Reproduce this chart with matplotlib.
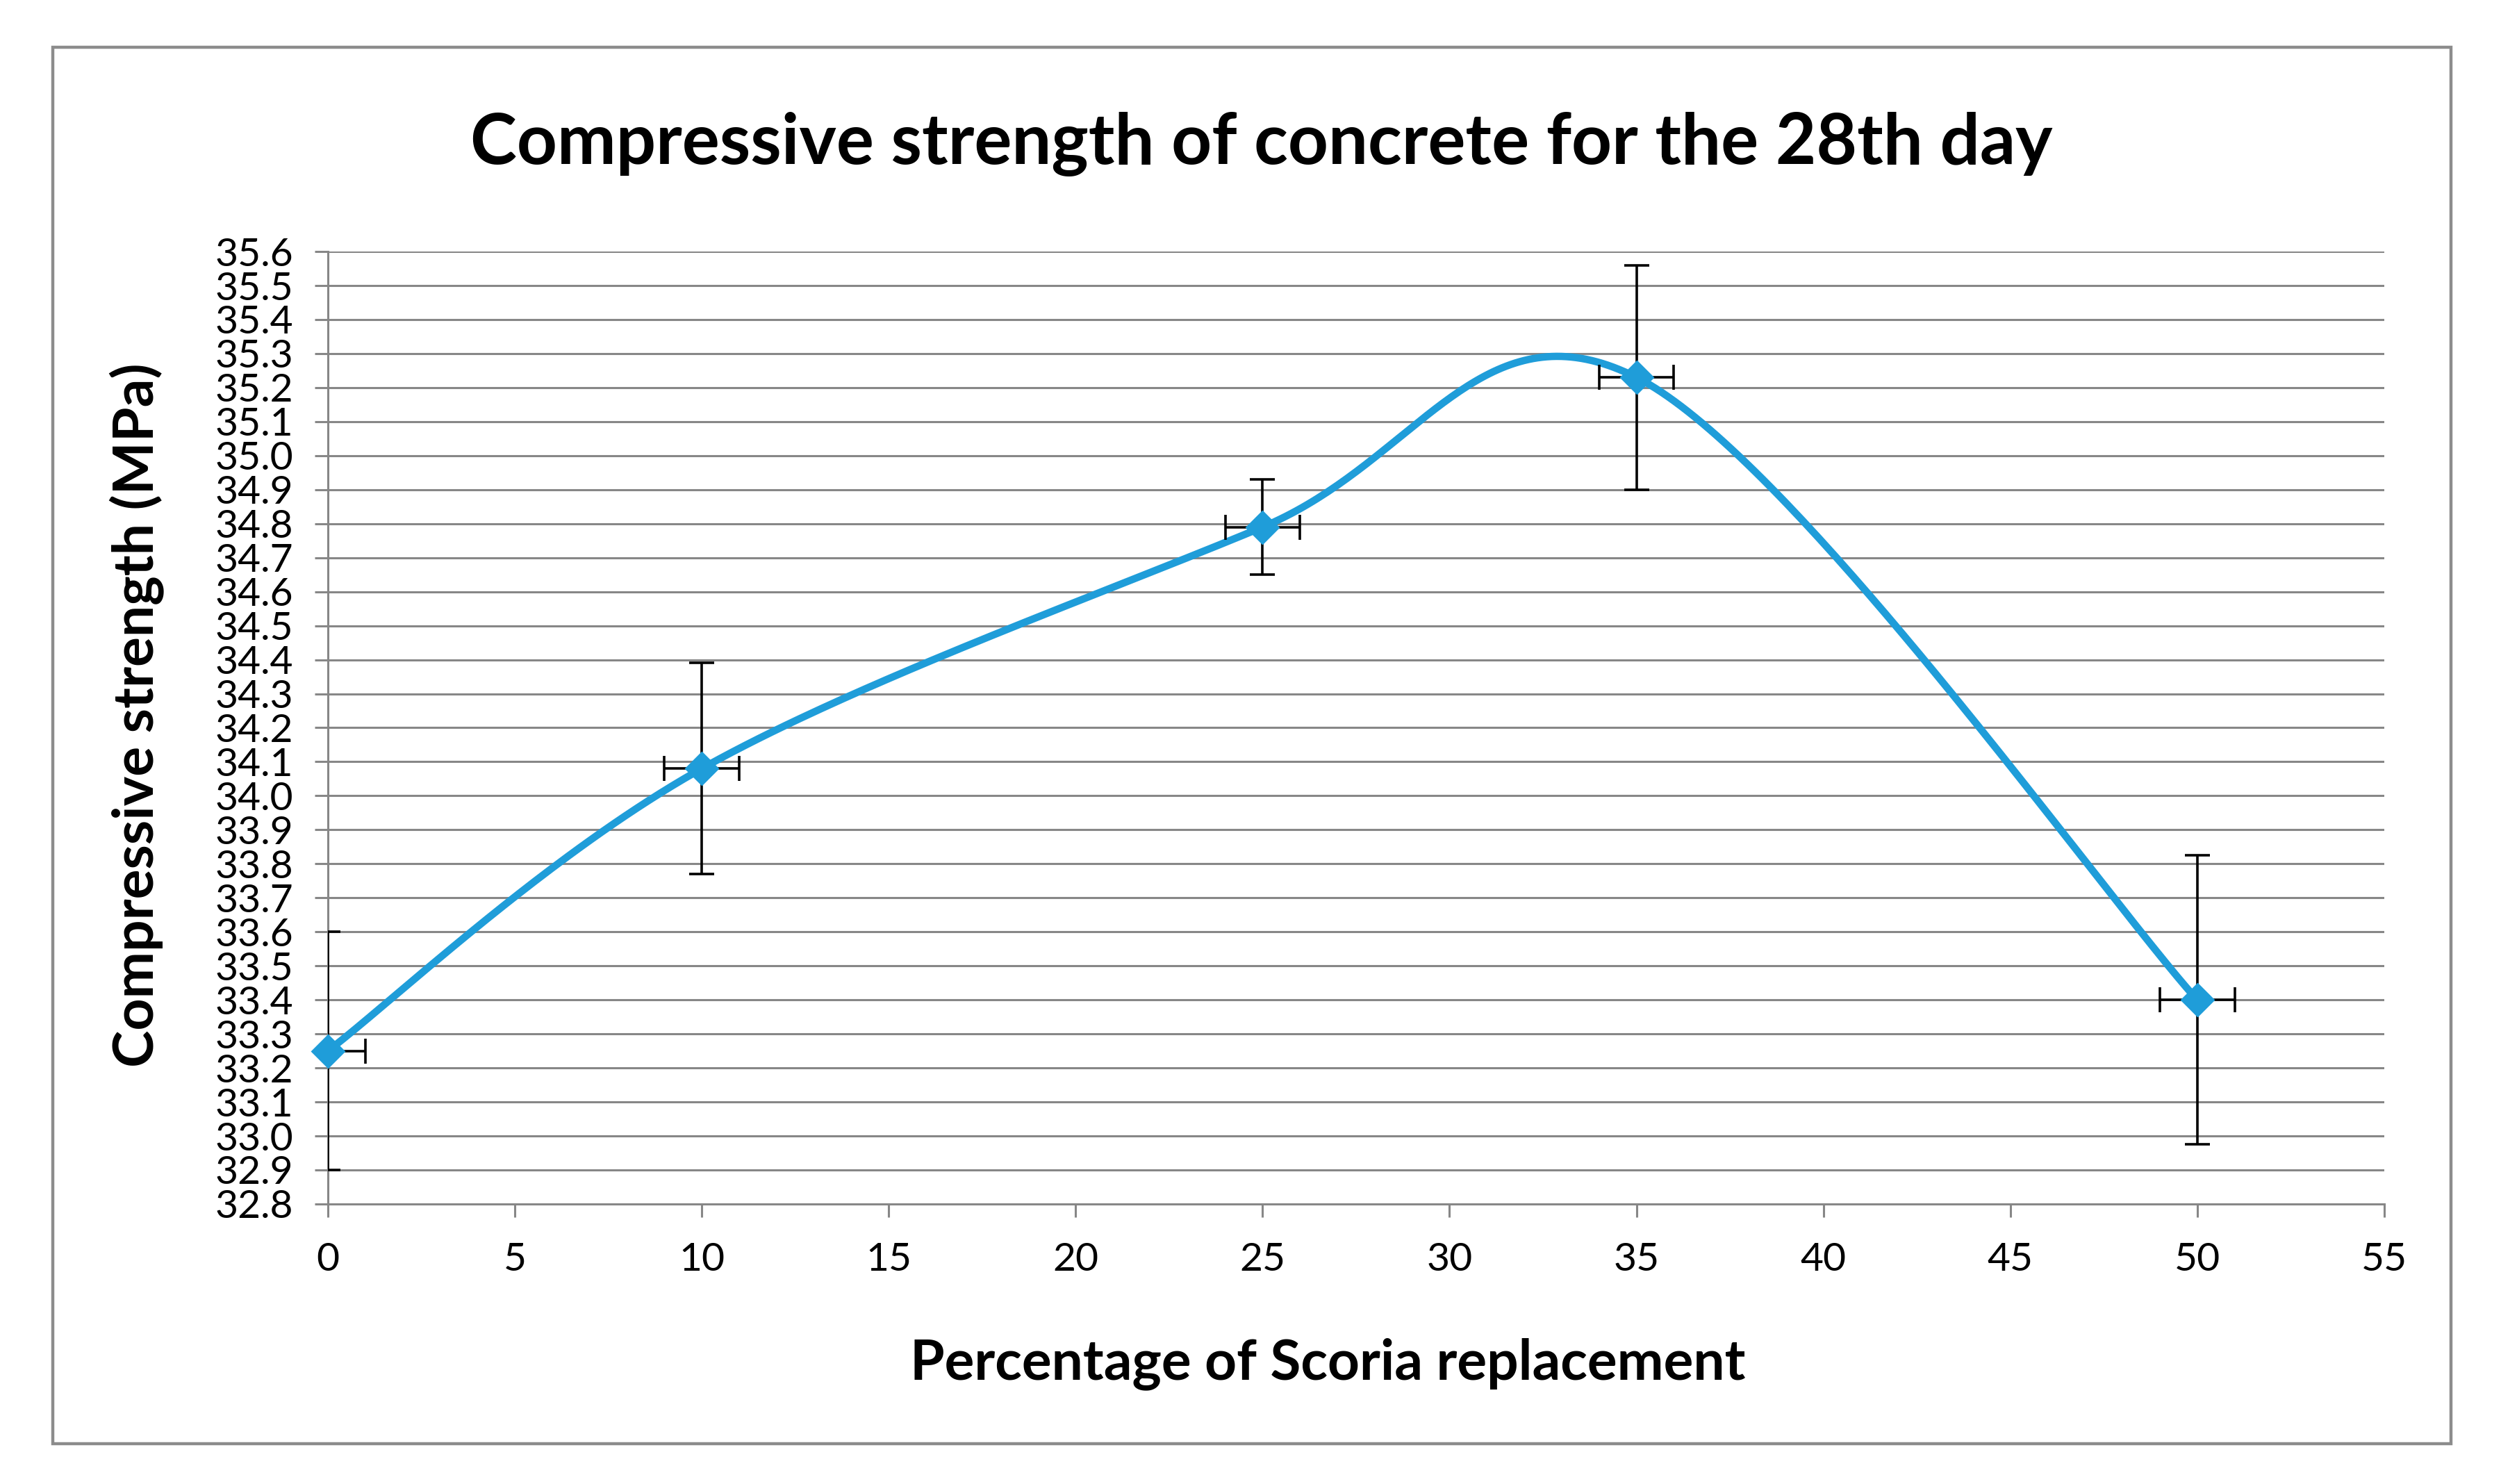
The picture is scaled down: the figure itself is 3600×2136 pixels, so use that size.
import numpy as np
import matplotlib
matplotlib.use('Agg')
import matplotlib.pyplot as plt
from matplotlib.patches import Rectangle

# data
replacement = [0, 10, 25, 35, 50]
strength = [33.25, 34.08, 34.79, 35.23, 33.40]
strength_err = [0.35, 0.31, 0.14, 0.33, 0.425]
replacement_err = [1, 1, 1, 1, 1]

y_ticks = [round(32.8 + 0.1 * i, 1) for i in range(29)]
x_ticks = [0, 5, 10, 15, 20, 25, 30, 35, 40, 45, 50, 55]

blue = '#1F9DD9'
grid_grey = '#878787'
plt.rcParams['font.family'] = ['Lato', 'DejaVu Sans']


def excel_smooth(xs, ys, n=80):
    # bezier smoothing like the "smoothed line" option of a spreadsheet
    pts = np.column_stack([xs, ys]).astype(float)
    t = np.linspace(0, 1, n)[:, None]
    out = []
    for i in range(len(pts) - 1):
        p_prev = pts[i - 1] if i > 0 else pts[i]
        p_next = pts[i + 2] if i + 2 < len(pts) else pts[i + 1]
        c1 = pts[i] + (pts[i + 1] - p_prev) / 6
        c2 = pts[i + 1] - (p_next - pts[i]) / 6
        seg = ((1 - t) ** 3 * pts[i] + 3 * (1 - t) ** 2 * t * c1
               + 3 * (1 - t) * t ** 2 * c2 + t ** 3 * pts[i + 1])
        out.append(seg if i == 0 else seg[1:])
    out = np.vstack(out)
    return out[:, 0], out[:, 1]


fig = plt.figure(figsize=(18, 10.68), dpi=200)
ax = fig.add_axes([0.1311, 0.1887, 0.8222, 0.6418])

fig.patches.append(Rectangle((0.021, 0.027), 0.959, 0.941, transform=fig.transFigure,
                             fill=False, edgecolor='#8c8c8c', linewidth=1.6))

sx, sy = excel_smooth(replacement, strength)
ax.plot(sx, sy, color=blue, linewidth=3.8, solid_capstyle='round', zorder=3)
ax.errorbar(replacement, strength, yerr=strength_err, xerr=replacement_err,
            fmt='none', ecolor='black', elinewidth=1.3, capsize=6.5, capthick=1.3, zorder=4)
ax.plot(replacement, strength, linestyle='none', marker='D', markersize=11.5,
        color=blue, clip_on=False, zorder=5)

ax.set_xlim(0, 55)
ax.set_ylim(32.8, 35.6)
ax.set_xticks(x_ticks)
ax.set_yticks(y_ticks)
ax.set_yticklabels([f'{v:.1f}' for v in y_ticks])

ax.grid(axis='y', color=grid_grey, linewidth=1.1)
ax.set_axisbelow(True)
for side in ['top', 'right']:
    ax.spines[side].set_visible(False)
for side in ['left', 'bottom']:
    ax.spines[side].set_color(grid_grey)
    ax.spines[side].set_linewidth(1.1)
ax.tick_params(axis='both', colors=grid_grey, width=1.1, length=7, labelcolor='black',
               labelsize=20.5)
ax.tick_params(axis='y', pad=11)
ax.tick_params(axis='x', pad=13)

fig.text(0.5045, 0.903, 'Compressive strength of concrete for the 28th day',
         ha='center', va='center', fontsize=36.4, fontweight='bold')
fig.text(0.0545, 0.518, 'Compressive strength (MPa)', rotation=90,
         ha='center', va='center', fontsize=29, fontweight='bold')
fig.text(0.531, 0.081, 'Percentage of Scoria replacement',
         ha='center', va='center', fontsize=28.9, fontweight='bold')

fig.savefig('out.png', dpi=200, facecolor='white')
